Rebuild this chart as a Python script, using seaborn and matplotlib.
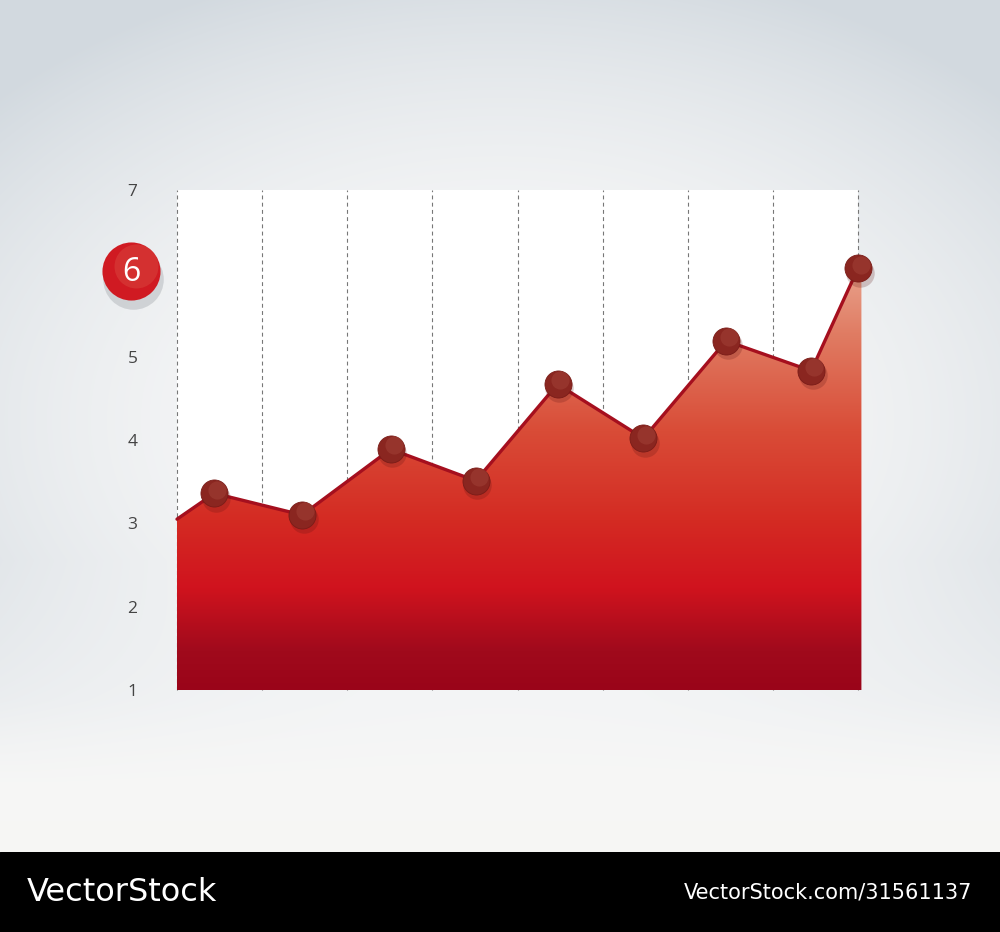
import numpy as np
import matplotlib
matplotlib.use("Agg")
import matplotlib.pyplot as plt
import seaborn as sns
import pandas as pd
from matplotlib.colors import LinearSegmentedColormap
from matplotlib.patches import Polygon

# values
x_pos = [0.0, 0.44, 1.47, 2.51, 3.51, 4.47, 5.48, 6.45, 7.45, 8.0]
values = [3.05, 3.36, 3.10, 3.89, 3.51, 4.67, 4.02, 5.19, 4.83, 6.06]
y_ticks = [1, 2, 3, 4, 5, 6, 7]
y_labels = ["1", "2", "3", "4", "5", "", "7"]
badge_label = "6"
brand = "VectorStock"
brand_url = "VectorStock.com/31561137"

df = pd.DataFrame({"x": x_pos, "y": values})
pts = df.iloc[1:]

sns.set_style("white")
plt.rcParams["font.family"] = ["Open Sans", "DejaVu Sans"]

W, H = 1000, 932
fig = plt.figure(figsize=(W / 100, H / 100), dpi=100)

# background: soft radial grey with a light centre
bg = fig.add_axes([0, 80 / H, 1, 852 / H])
bg.set_axis_off()
yy, xx = np.mgrid[0:852, 0:1000]
d = np.sqrt(((xx - 500) / 700.0) ** 2 + ((yy - 420) / 470.0) ** 2)
w = np.clip(d, 0, 1) ** 2.2
w = w * (1 - np.clip((yy - 560) / 240.0, 0, 1))
c_in = np.array([249, 249, 249]) / 255
c_out = np.array([210, 217, 223]) / 255
img = c_in[None, None, :] * (1 - w[..., None]) + c_out[None, None, :] * w[..., None]
bottom = np.clip((yy - 700) / 150.0, 0, 1)[..., None]
img = img * (1 - bottom) + np.array([246, 246, 244]) / 255 * bottom
bg.imshow(img, aspect="auto", extent=[0, 1, 0, 1], origin="upper")
bg.set_xlim(0, 1)
bg.set_ylim(0, 1)

# black footer
foot = fig.add_axes([0, 0, 1, 80 / H])
foot.set_axis_off()
foot.add_patch(plt.Rectangle((0, 0), 1, 1, color="black", transform=foot.transAxes))
foot.text(27 / W, 0.49, brand, color="white", fontsize=23, va="center", ha="left",
          family=["Liberation Sans Narrow", "DejaVu Sans"])
foot.text(972 / W, 0.49, brand_url, color="white", fontsize=15, va="center", ha="right",
          family=["Liberation Sans Narrow", "DejaVu Sans"])

# main chart
ax = fig.add_axes([177 / W, (H - 690) / H, 681 / W, 500 / H])
ax.set_facecolor("white")
ax.set_xlim(0, 8)
ax.set_ylim(1, 7)
for s in ax.spines.values():
    s.set_visible(False)

for xv in range(9):
    ax.axvline(xv, color="#777777", lw=0.8, ls=(0, (3.5, 3)), zorder=1, clip_on=False)

# gradient area, clipped to the area under the line
edge = x_pos[-1] + 0.04
verts = [(x_pos[0], 1)] + list(zip(x_pos, values)) + [(edge, values[-1] - 0.05), (edge, 1)]
area = Polygon(verts, closed=True, facecolor="none", lw=0, transform=ax.transData)
ax.add_patch(area)
area.set_clip_on(False)
stops = [(0.0, "#9a0419"), (0.09, "#a00a1c"), (0.24, "#d0131e"),
         (0.40, "#d42b23"), (0.61, "#d94c37"), (0.84, "#e07c63"), (1.0, "#e9a58f")]
cmap = LinearSegmentedColormap.from_list("redfade", stops)
grad = np.linspace(0, 1, 256)[:, None]
im = ax.imshow(grad, cmap=cmap, aspect="auto", extent=[0, 8.06, 1, 6.1],
               origin="lower", zorder=2)
im.set_clip_box(fig.bbox)
im.set_clip_path(area)
ax.set_xlim(0, 8)
ax.set_ylim(1, 7)

sns.lineplot(data=df, x="x", y="y", color="#a50f1e", lw=2.4, ax=ax, zorder=3,
             clip_on=False)

# markers with a small shadow and highlight
ax.scatter(pts["x"] + 0.02, pts["y"] - 0.05, s=420, color="#5a1010", alpha=0.22,
           lw=0, zorder=4, clip_on=False)
sns.scatterplot(data=pts, x="x", y="y", s=380, color="#8a2620", edgecolor="#7a1c18",
                linewidth=0.6, ax=ax, zorder=5, clip_on=False)
ax.scatter(pts["x"] + 0.035, pts["y"] + 0.045, s=170, color="#a5473b", alpha=0.45,
           lw=0, zorder=6, clip_on=False)

ax.set_xticks([])
ax.set_yticks(y_ticks)
ax.set_yticklabels(y_labels)
ax.tick_params(axis="y", length=0, pad=32, labelsize=12.5, labelcolor="#444444")
for t in ax.get_yticklabels():
    t.set_horizontalalignment("center")
ax.set_xlabel("")
ax.set_ylabel("")

# red badge for 6
bx, by = -0.54, 6.03
ax.scatter([bx + 0.02], [by - 0.1], s=1900, color="#8a8f95", alpha=0.3, lw=0,
           zorder=6, clip_on=False)
ax.scatter([bx], [by], s=1750, color="#d01a22", lw=0, zorder=7, clip_on=False)
ax.scatter([bx + 0.06], [by + 0.06], s=1000, color="#e06552", alpha=0.3, lw=0,
           zorder=8, clip_on=False)
ax.text(bx, by - 0.02, badge_label, color="white", fontsize=23, ha="center",
        va="center", zorder=9, clip_on=False)

fig.savefig("out.png", dpi=100)
